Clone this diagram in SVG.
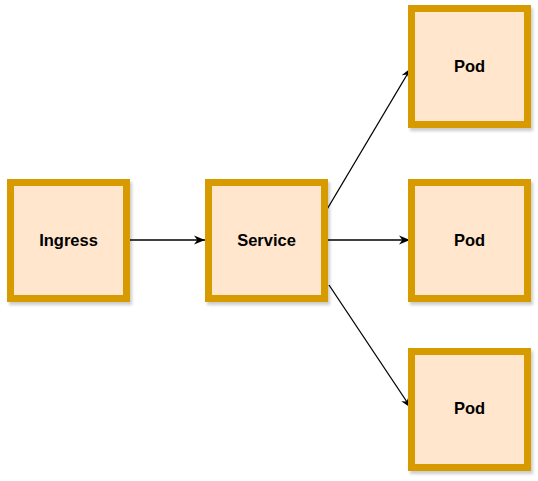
<svg xmlns="http://www.w3.org/2000/svg" width="538" height="481" viewBox="0 0 538 481">
<style>
.box{fill:#ffe6cc;stroke:#d79b00;stroke-width:7;filter:url(#sh)}
.lbl{font-family:"Liberation Sans",Arial,sans-serif;font-weight:bold;font-size:16.5px;fill:#000;text-anchor:middle;dominant-baseline:central}
.edge{stroke:#000;stroke-width:1.3;fill:none;marker-end:url(#arr)}
</style>
<defs>
<filter id="sh" x="-10%" y="-10%" width="130%" height="130%">
<feDropShadow dx="2" dy="3" stdDeviation="1.5" flood-color="#000" flood-opacity="0.2"/>
</filter>
<marker id="arr" viewBox="0 0 10 8" refX="10" refY="4" markerWidth="11" markerHeight="10" markerUnits="userSpaceOnUse" orient="auto">
<path d="M0,0 L10,4 L0,8 L3,4 z" fill="#000"/>
</marker>
</defs>
<g id="edges">
<line class="edge" x1="130" y1="240" x2="205" y2="240"/>
<line class="edge" x1="326" y1="211" x2="411" y2="68"/>
<line class="edge" x1="328" y1="240" x2="410" y2="240"/>
<line class="edge" x1="329" y1="285" x2="411" y2="408"/>
</g>
<g id="ingress"><rect class="box" x="10.5" y="182.5" width="116" height="116"/><text class="lbl" x="68.5" y="240">Ingress</text></g>
<g id="service"><rect class="box" x="208.5" y="182.5" width="116" height="116"/><text class="lbl" x="266.5" y="240">Service</text></g>
<g id="pod1"><rect class="box" x="411.5" y="8.5" width="116" height="116"/><text class="lbl" x="469.5" y="66">Pod</text></g>
<g id="pod2"><rect class="box" x="411.5" y="182.5" width="116" height="116"/><text class="lbl" x="469.5" y="240">Pod</text></g>
<g id="pod3"><rect class="box" x="411.5" y="351.5" width="116" height="116"/><text class="lbl" x="469.5" y="408">Pod</text></g>
</svg>
